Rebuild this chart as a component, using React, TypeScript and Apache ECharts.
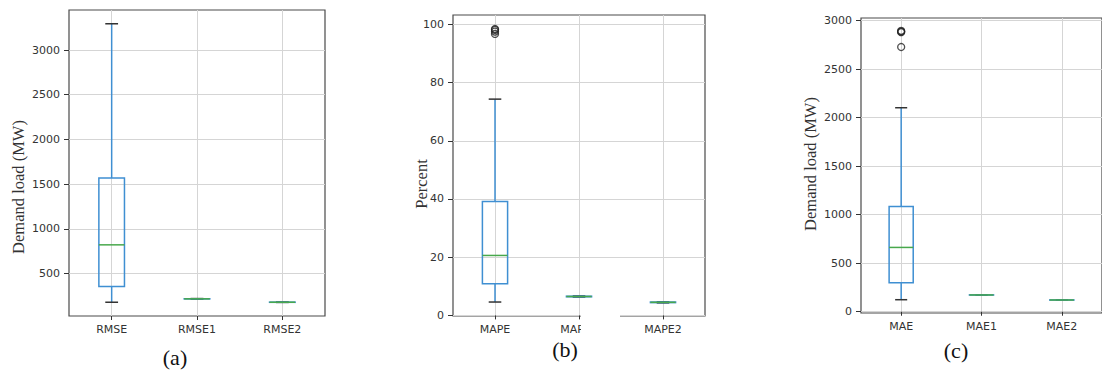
import React, { useEffect, useRef } from "react";
import * as echarts from "echarts";

// Box statistics per metric: [lower whisker, Q1, median, Q3, upper whisker]
const rmseNames = ["RMSE", "RMSE1", "RMSE2"];
const rmseStats = [
  [179, 355, 821, 1569, 3294],
  [214, 216, 217, 218, 220],
  [177, 178, 179, 180, 181],
];
const rmseOutliers: number[][] = [];
const rmseTicks = [500, 1000, 1500, 2000, 2500, 3000];

const mapeNames = ["MAPE", "MAPE1", "MAPE2"];
const mapeStats = [
  [4.6, 10.9, 20.6, 39.1, 74.3],
  [6.3, 6.4, 6.5, 6.6, 6.7],
  [4.3, 4.4, 4.5, 4.6, 4.7],
];
const mapeOutliers = [
  [0, 98.4],
  [0, 98.1],
  [0, 97.5],
  [0, 96.7],
];
const mapeTicks = [0, 20, 40, 60, 80, 100];

const maeNames = ["MAE", "MAE1", "MAE2"];
const maeStats = [
  [124, 299, 663, 1086, 2103],
  [171, 172, 173, 174, 175],
  [119, 120, 121, 122, 123],
];
const maeOutliers = [
  [0, 2895],
  [0, 2888],
  [0, 2882],
  [0, 2729],
];
const maeTicks = [0, 500, 1000, 1500, 2000, 2500, 3000];

const BLUE = "#3f8fd2";
const GREEN = "#48a84c";
const CAP = "#333333";
const GRIDLINE = "#d5d5d5";
const FRAME = "#4a4a4a";
const TICKFONT = "DejaVu Sans";
const SERIF = "Liberation Serif";

// Draws one matplotlib-style box: blue box and whiskers, dark caps, green median
function renderBox(params: any, api: any) {
  const idx = api.value(0);
  const lo = api.coord([idx, api.value(1)]);
  const q1 = api.coord([idx, api.value(2)]);
  const med = api.coord([idx, api.value(3)]);
  const q3 = api.coord([idx, api.value(4)]);
  const hi = api.coord([idx, api.value(5)]);
  const band = api.size([1, 0])[0];
  const boxW = band * 0.3;
  const capW = boxW * 0.5;
  const x = med[0];
  const line = (x1: number, y1: number, x2: number, y2: number, color: string) => ({
    type: "line",
    shape: { x1, y1, x2, y2 },
    style: { stroke: color, lineWidth: 1.5 },
  });
  return {
    type: "group",
    children: [
      line(x, q3[1], x, hi[1], BLUE),
      line(x, lo[1], x, q1[1], BLUE),
      line(x - capW / 2, hi[1], x + capW / 2, hi[1], CAP),
      line(x - capW / 2, lo[1], x + capW / 2, lo[1], CAP),
      {
        type: "rect",
        shape: { x: x - boxW / 2, y: q3[1], width: boxW, height: Math.max(q1[1] - q3[1], 0.1) },
        style: { stroke: BLUE, fill: "none", lineWidth: 1.5 },
      },
      line(x - boxW / 2, med[1], x + boxW / 2, med[1], GREEN),
    ],
  };
}

function panel(
  i: number,
  names: string[],
  stats: number[][],
  outliers: number[][],
  ticks: number[],
  min: number,
  max: number
) {
  const xAxis = {
    type: "category",
    gridIndex: i,
    data: names,
    boundaryGap: true,
    axisLine: { show: false },
    axisTick: { show: true, alignWithLabel: true, length: 4, lineStyle: { color: "#333" } },
    axisLabel: { color: "#333", fontFamily: TICKFONT, fontSize: 11, margin: 8 },
    splitLine: { show: true, alignWithLabel: true, lineStyle: { color: GRIDLINE, width: 1 } },
  };
  const yAxis = {
    type: "value",
    gridIndex: i,
    min,
    max,
    axisLine: { show: false },
    axisTick: { show: true, length: 5, lineStyle: { color: "#333" }, customValues: ticks },
    axisLabel: {
      color: "#333",
      fontFamily: TICKFONT,
      fontSize: 11,
      margin: 9,
      customValues: ticks,
      formatter: (v: number) => String(v),
    },
    splitLine: { show: true, lineStyle: { color: GRIDLINE, width: 1 } },
  };
  const series = [
    {
      type: "custom",
      xAxisIndex: i,
      yAxisIndex: i,
      renderItem: renderBox,
      data: stats.map((s, k) => [k, ...s]),
      z: 3,
    },
    {
      type: "scatter",
      xAxisIndex: i,
      yAxisIndex: i,
      symbol: "circle",
      symbolSize: 7,
      itemStyle: { color: "rgba(0,0,0,0)", borderColor: "#222", borderWidth: 1.3 },
      data: outliers,
      z: 4,
    },
  ];
  return { xAxis, yAxis, series };
}

export default function App() {
  const ref = useRef<HTMLDivElement>(null);

  useEffect(() => {
    if (!ref.current) return;
    const chart = echarts.init(ref.current, undefined, { renderer: "svg" });
    const a = panel(0, rmseNames, rmseStats, rmseOutliers, rmseTicks, 25, 3448);
    const b = panel(1, mapeNames, mapeStats, mapeOutliers, mapeTicks, -0.2, 103.2);
    const c = panel(2, maeNames, maeStats, maeOutliers, maeTicks, -13, 3028);
    const gridStyle = { show: true, borderColor: FRAME, borderWidth: 1.2, backgroundColor: "#fff" };
    const letter = (text: string, x: number, y: number) => ({
      type: "text",
      x,
      y,
      style: { text, font: `22px "${SERIF}"`, fill: "#111", align: "center", verticalAlign: "middle" },
    });
    const axisTitle = (text: string, x: number, y: number) => ({
      type: "text",
      x,
      y,
      rotation: Math.PI / 2,
      style: { text, font: `16.5px "${SERIF}"`, fill: "#333", align: "center", verticalAlign: "middle" },
    });
    chart.setOption({
      animation: false,
      backgroundColor: "#fff",
      grid: [
        { left: 69, top: 10, width: 256, height: 306, ...gridStyle },
        { left: 453, top: 15, width: 252, height: 301, ...gridStyle },
        { left: 861, top: 18, width: 248, height: 295, ...gridStyle },
      ],
      xAxis: [a.xAxis, b.xAxis, c.xAxis],
      yAxis: [a.yAxis, b.yAxis, c.yAxis],
      series: [...a.series, ...b.series, ...c.series],
      graphic: [
        {
          type: "rect",
          z: 100,
          shape: { x: 581, y: 311, width: 39, height: 32 },
          style: { fill: "#fff" },
        },
        axisTitle("Demand load (MW)", 18, 187),
        axisTitle("Percent", 421, 184),
        axisTitle("Demand load (MW)", 810, 164),
        letter("(a)", 175, 357),
        letter("(b)", 565, 349),
        letter("(c)", 956, 350),
      ],
    });
    return () => chart.dispose();
  }, []);

  return (
    <div
      ref={ref}
      style={{ position: "fixed", left: 0, top: 0, width: 1102, height: 372, background: "#fff" }}
    />
  );
}
